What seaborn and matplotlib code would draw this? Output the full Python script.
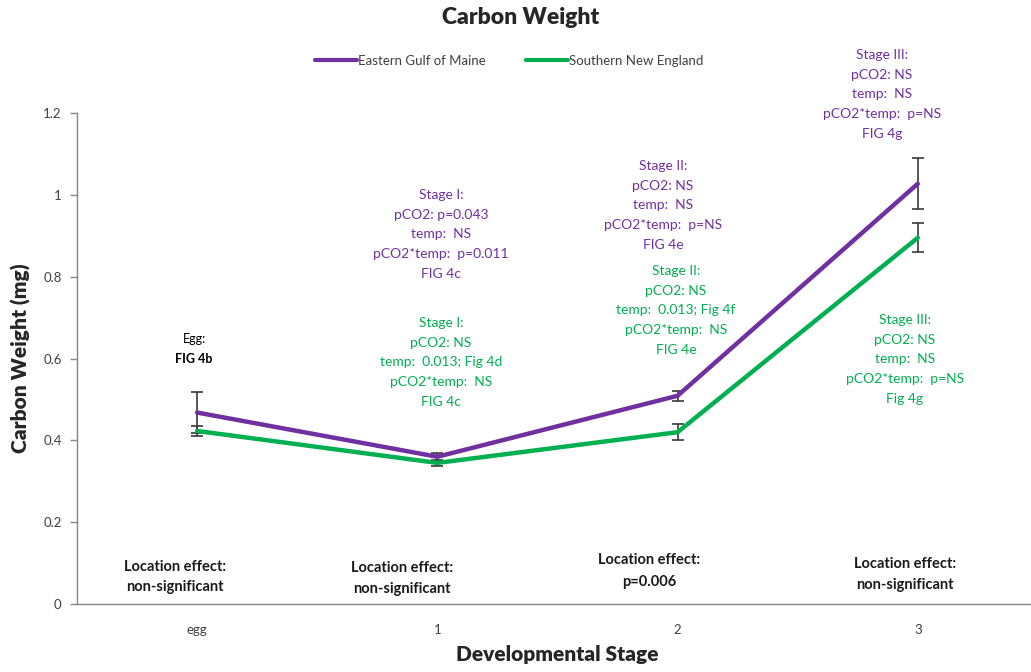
import numpy as np
import pandas as pd
import matplotlib
matplotlib.use("Agg")
import matplotlib.pyplot as plt
import seaborn as sns

# Mean carbon weight (mg) and standard error per developmental stage
stages = ["egg", "1", "2", "3"]
gulf_maine = [0.468, 0.360, 0.509, 1.027]
gulf_maine_err = [0.050, 0.010, 0.012, 0.062]
new_england = [0.423, 0.345, 0.420, 0.895]
new_england_err = [0.012, 0.008, 0.020, 0.036]
series_names = ["Eastern Gulf of Maine", "Southern New England"]

PURPLE = "#7030A0"
GREEN = "#00B050"

sns.set_theme(style="white")
plt.rcParams["font.family"] = ["Lato", "DejaVu Sans"]

df = pd.DataFrame({
    "stage": stages * 2,
    "pos": list(range(len(stages))) * 2,
    "weight": gulf_maine + new_england,
    "err": gulf_maine_err + new_england_err,
    "region": [series_names[0]] * 4 + [series_names[1]] * 4,
})

fig = plt.figure(figsize=(10.31, 6.72), dpi=100)
ax = fig.add_axes([0.0747, 0.101, 0.932, 0.731])

# error bars first so the lines sit over them
for name in series_names:
    sub = df[df.region == name]
    ax.errorbar(sub["pos"], sub["weight"], yerr=sub["err"], fmt="none",
                ecolor="#3a3a3a", elinewidth=1.2, capsize=4, capthick=1.2, zorder=1)

sns.lineplot(data=df, x="pos", y="weight", hue="region",
             palette={series_names[0]: PURPLE, series_names[1]: GREEN},
             linewidth=3.2, ax=ax, legend=False, sort=False, zorder=2)

ax.set_xlim(-0.5, 3.5)
ax.set_ylim(0, 1.2)
ax.set_xticks(range(len(stages)))
ax.set_xticklabels(stages)
ax.set_yticks(np.arange(0, 1.21, 0.2))
ax.set_yticklabels(["0", "0.2", "0.4", "0.6", "0.8", "1", "1.2"])
ax.tick_params(axis="y", direction="out", length=5, width=1, color="#868686",
               labelsize=9.5, labelcolor="#404040", pad=6, left=True)
ax.tick_params(axis="x", length=0, labelsize=9.5, labelcolor="#404040", pad=14)
for side in ["top", "right"]:
    ax.spines[side].set_visible(False)
for side in ["left", "bottom"]:
    ax.spines[side].set_color("#868686")
    ax.spines[side].set_linewidth(1)

ax.set_xlabel("Developmental Stage", fontsize=15, fontweight="heavy", labelpad=7)
ax.set_ylabel("Carbon Weight (mg)", fontsize=15, fontweight="heavy", labelpad=9)

fig.text(0.505, 1 - 18 / 672, "Carbon Weight", ha="center", va="center",
         fontsize=16.5, fontweight="heavy")

handles = [plt.Line2D([], [], color=PURPLE, lw=3), plt.Line2D([], [], color=GREEN, lw=3)]
fig.legend(handles, series_names, loc="center", bbox_to_anchor=(0.494, 1 - 61 / 672),
           ncol=2, frameon=False, fontsize=9.5, handlelength=3.2, handletextpad=0.1,
           columnspacing=3.0, labelcolor="#404040")


def block(x, y, lines, color, weight="normal", step=19.7, size=10):
    for i, s in enumerate(lines):
        fig.text(x / 1031, 1 - (y + i * step) / 672, s, ha="center", va="center",
                 color=color, fontsize=size, fontweight=weight)


fig.text(194 / 1031, 1 - 339 / 672, "Egg:", ha="center", va="center", fontsize=9, color="black")
fig.text(194 / 1031, 1 - 359 / 672, "FIG 4b", ha="center", va="center", fontsize=9,
         fontweight="bold", color="black")

block(441, 195, ["Stage I:", "pCO2: p=0.043", "temp:  NS", "pCO2*temp:  p=0.011", "FIG 4c"], PURPLE)
block(441, 323, ["Stage I:", "pCO2: NS", "temp:  0.013; Fig 4d", "pCO2*temp:  NS", "FIG 4c"], GREEN)
block(663, 166, ["Stage II:", "pCO2: NS", "temp:  NS", "pCO2*temp:  p=NS", "FIG 4e"], PURPLE)
block(676, 271, ["Stage II:", "pCO2: NS", "temp:  0.013; Fig 4f", "pCO2*temp:  NS", "FIG 4e"], GREEN)
block(882, 55, ["Stage III:", "pCO2: NS", "temp:  NS", "pCO2*temp:  p=NS", "FIG 4g"], PURPLE)
block(905, 320, ["Stage III:", "pCO2: NS", "temp:  NS", "pCO2*temp:  p=NS", "Fig 4g"], GREEN)

block(175, 567, ["Location effect:", "non-significant"], "#1a1a1a", weight="bold", step=20.5, size=10.5)
block(402, 568, ["Location effect:", "non-significant"], "#1a1a1a", weight="bold", step=20.5, size=10.5)
block(649, 560, ["Location effect:", "p=0.006"], "#1a1a1a", weight="bold", step=22, size=10.5)
block(905, 564, ["Location effect:", "non-significant"], "#1a1a1a", weight="bold", step=21, size=10.5)

fig.savefig("out.png", dpi=100, facecolor="white")
